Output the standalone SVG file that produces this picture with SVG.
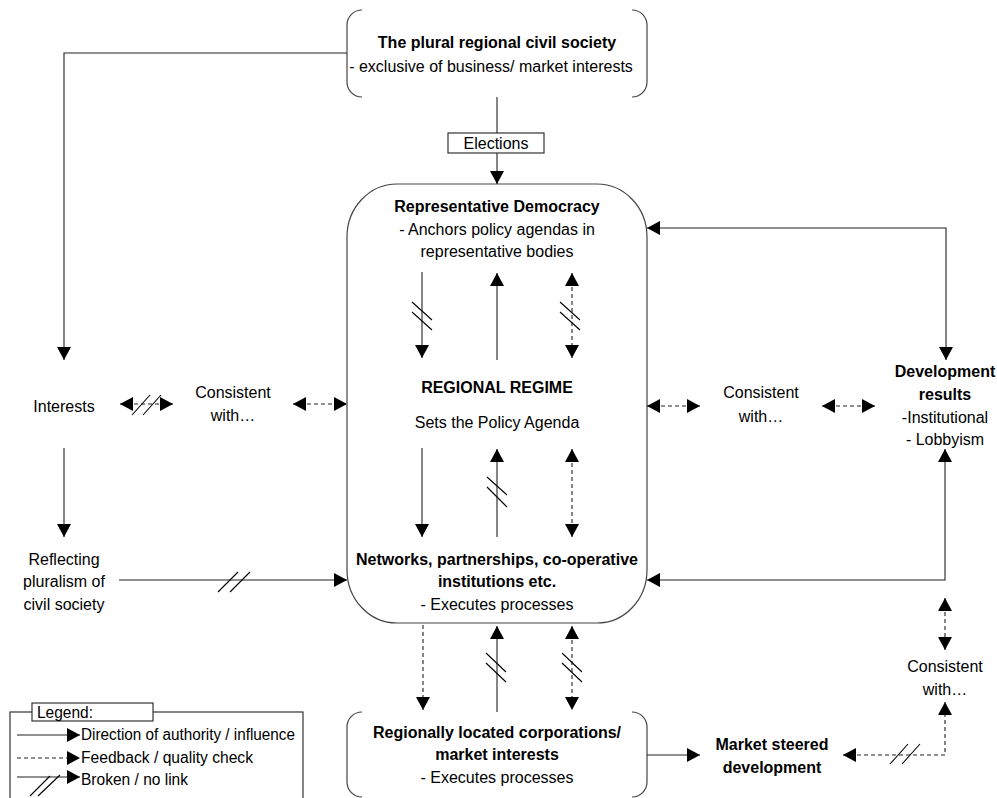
<svg xmlns="http://www.w3.org/2000/svg" width="997" height="798" viewBox="0 0 997 798">
  <style>
    text { font-family: "Liberation Sans", Arial, sans-serif; font-size: 16px; fill: #000; text-anchor: middle; }
    .b { font-weight: bold; }
    .l { text-anchor: start; }
    .frame { fill: none; stroke: #444; stroke-width: 1.2; }
    .ln { fill: none; stroke: #222; stroke-width: 1.1; }
    .dash { fill: none; stroke: #222; stroke-width: 1.1; stroke-dasharray: 4 3; }
    .arr { marker-end: url(#ah); }
    .arr2 { marker-start: url(#ah); marker-end: url(#ah); }
    .brk { fill: none; stroke: #000; stroke-width: 1.1; }
  </style>
  <defs>
    <marker id="ah" markerUnits="userSpaceOnUse" markerWidth="14" markerHeight="14" refX="13" refY="7" orient="auto-start-reverse" viewBox="0 0 14 14">
      <path d="M0,0 L13,7 L0,14 Z" fill="#000"/>
    </marker>
  </defs>
  <rect width="997" height="798" fill="#fff"/>

  <!-- nodes -->
  <g id="civil-society">
    <path class="frame" d="M362,10 A15,15 0 0 0 347,25 V82 A15,15 0 0 0 362,97"/>
    <path class="frame" d="M632,10 A15,15 0 0 1 647,25 V82 A15,15 0 0 1 632,97"/>
    <text class="b" x="497" y="48">The plural regional civil society</text>
    <text x="491" y="72">- exclusive of business/ market interests</text>
  </g>

  <g id="elections">
    <rect x="448" y="133" width="96" height="20" fill="#fff" stroke="#222" stroke-width="1.1"/>
    <text x="496" y="149">Elections</text>
  </g>

  <g id="regional-regime">
    <path class="frame" d="M397,184 H597 A50,53 0 0 1 647,237 V570 A50,53 0 0 1 597,623 H397 A50,53 0 0 1 347,570 V237 A50,53 0 0 1 397,184 Z"/>
    <text class="b" x="497" y="212">Representative Democracy</text>
    <text x="497" y="235">- Anchors policy agendas in</text>
    <text x="497" y="257">representative bodies</text>
    <text class="b" x="497" y="393">REGIONAL REGIME</text>
    <text x="497" y="428">Sets the Policy Agenda</text>
    <text class="b" x="497" y="565">Networks, partnerships, co-operative</text>
    <text class="b" x="497" y="587">institutions etc.</text>
    <text x="497" y="610">- Executes processes</text>
  </g>

  <g id="corporations">
    <path class="frame" d="M362,712 A15,15 0 0 0 347,727 V782 A15,15 0 0 0 362,797"/>
    <path class="frame" d="M632,712 A15,15 0 0 1 647,727 V782 A15,15 0 0 1 632,797"/>
    <text class="b" x="497" y="738">Regionally located corporations/</text>
    <text class="b" x="497" y="760">market interests</text>
    <text x="497" y="783">- Executes processes</text>
  </g>

  <g id="interests">
    <text x="64" y="412">Interests</text>
  </g>

  <g id="consistent-left">
    <text x="233" y="398">Consistent</text>
    <text x="233" y="421">with…</text>
  </g>

  <g id="reflecting-pluralism">
    <text x="64" y="565">Reflecting</text>
    <text x="64" y="587">pluralism of</text>
    <text x="64" y="610">civil society</text>
  </g>

  <g id="consistent-right">
    <text x="761" y="398">Consistent</text>
    <text x="761" y="422">with…</text>
  </g>

  <g id="development-results">
    <text class="b" x="945" y="377">Development</text>
    <text class="b" x="945" y="400">results</text>
    <text x="945" y="423">-Institutional</text>
    <text x="945" y="445">- Lobbyism</text>
  </g>

  <g id="consistent-lower">
    <text x="945" y="672">Consistent</text>
    <text x="945" y="695">with…</text>
  </g>

  <g id="market-steered">
    <text class="b" x="772" y="750">Market steered</text>
    <text class="b" x="772" y="773">development</text>
  </g>

  <!-- connectors -->
  <g id="connectors">
    <!-- civil society to elections to democracy -->
    <path class="ln" d="M497,97 V133"/>
    <path class="ln arr" d="M497,153 V184"/>
    <!-- civil society to interests -->
    <path class="ln arr" d="M347,53 H64 V360"/>
    <!-- interests to reflecting pluralism -->
    <path class="ln arr" d="M64,448 V537"/>
    <!-- reflecting pluralism to networks (broken) -->
    <path class="ln arr" d="M119,580 H347"/>
    <path class="brk" d="M218,592 L238,572 M230,592 L250,572"/>
    <!-- interests / consistent (broken feedback) -->
    <path class="dash arr2" d="M120,404 H173"/>
    <path class="brk" d="M132,415 L150,395 M143,415 L161,395"/>
    <!-- consistent / regime -->
    <path class="dash arr2" d="M293,404 H347"/>
    <!-- regime / consistent right -->
    <path class="dash arr2" d="M647,406 H700"/>
    <path class="dash arr2" d="M822,406 H875"/>
    <!-- results feedback loops -->
    <path class="ln arr2" d="M647,228 H946 V360"/>
    <path class="ln arr2" d="M647,580 H945 V449"/>
    <!-- consistent lower -->
    <path class="dash arr2" d="M945,598 V650"/>
    <path class="dash arr2" d="M843,755 H945 V702"/>
    <path class="brk" d="M890,764 L908,744 M902,764 L920,744"/>
    <!-- corporations to market steered -->
    <path class="ln arr" d="M647,755 H700"/>

    <!-- democracy to regime -->
    <path class="ln arr" d="M422,272 V358"/>
    <path class="brk" d="M412,302 L432,320 M412,312 L432,330"/>
    <path class="ln arr" d="M497,360 V273"/>
    <path class="dash arr2" d="M572,273 V358"/>
    <path class="brk" d="M560,302 L580,320 M560,312 L580,330"/>

    <!-- regime to networks -->
    <path class="ln arr" d="M422,448 V537"/>
    <path class="ln arr" d="M497,537 V449"/>
    <path class="brk" d="M487,477 L507,495 M487,487 L507,507"/>
    <path class="dash arr2" d="M572,449 V537"/>

    <!-- networks to corporations -->
    <path class="dash arr" d="M423,625 V710"/>
    <path class="ln arr" d="M497,712 V626"/>
    <path class="brk" d="M486,653 L506,672 M486,663 L506,682"/>
    <path class="dash arr2" d="M572,626 V710"/>
    <path class="brk" d="M562,653 L582,672 M562,663 L582,682"/>
  </g>

  <!-- legend -->
  <g id="legend">
    <rect x="10" y="712" width="293" height="92" fill="none" stroke="#222" stroke-width="1.1"/>
    <rect x="32" y="703" width="121" height="18" fill="#fff" stroke="#222" stroke-width="1.1"/>
    <text class="l" x="37" y="718" textLength="56" lengthAdjust="spacingAndGlyphs">Legend:</text>
    <path class="ln arr" d="M17,735 H80"/>
    <text class="l" x="81" y="740" textLength="214" lengthAdjust="spacingAndGlyphs">Direction of authority / influence</text>
    <path class="dash arr" d="M17,758 H80"/>
    <text class="l" x="81" y="763" textLength="172" lengthAdjust="spacingAndGlyphs">Feedback / quality check</text>
    <path class="ln arr" d="M17,777 H80"/>
    <path class="brk" d="M30,796 L50,776 M38,796 L60,775"/>
    <text class="l" x="81" y="785" textLength="107" lengthAdjust="spacingAndGlyphs">Broken / no link</text>
  </g>
</svg>
